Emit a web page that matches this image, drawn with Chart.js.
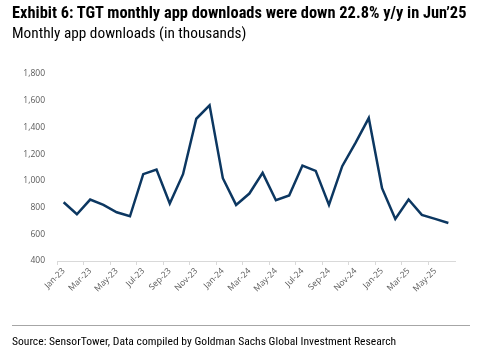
<!DOCTYPE html>
<html>
<head>
<meta charset="utf-8">
<script src="https://cdn.jsdelivr.net/npm/chart.js@4"></script>
<style>
  body { margin: 0; background: #fff; }
  #wrap { position: relative; width: 500px; height: 354px; overflow: hidden; }
  #chart { position: absolute; left: 0; top: 0; }
  .title {
    position: absolute; left: 12px; top: 3px; white-space: nowrap;
    font-family: 'Liberation Sans Narrow', 'Arial Narrow', 'Roboto Condensed', sans-serif;
    font-weight: bold; font-size: 16.4px; color: #000;
  }
  .subtitle {
    position: absolute; left: 12px; top: 24px; white-space: nowrap;
    font-family: 'Liberation Sans Narrow', 'Arial Narrow', 'Roboto Condensed', sans-serif;
    font-size: 15.3px; color: #000;
  }
  .rule { position: absolute; left: 12px; top: 325px; width: 458px; height: 1px; background: #a6a6a6; }
  .source {
    position: absolute; left: 12px; top: 334px; white-space: nowrap;
    font-family: 'Liberation Sans Narrow', 'Arial Narrow', 'Roboto Condensed', sans-serif;
    font-size: 11.6px; color: #000;
  }
</style>
</head>
<body>
<div id="wrap">
  <canvas id="chart" width="500" height="354"></canvas>
  <div class="title">Exhibit 6: TGT monthly app downloads were down 22.8% y/y in Jun’25</div>
  <div class="subtitle">Monthly app downloads (in thousands)</div>
  <div class="rule"></div>
  <div class="source">Source: SensorTower, Data compiled by Goldman Sachs Global Investment Research</div>
</div>
<script>
// Months Jan-23 .. Jun-25
const months = [
  'Jan-23', 'Feb-23', 'Mar-23', 'Apr-23', 'May-23', 'Jun-23',
  'Jul-23', 'Aug-23', 'Sep-23', 'Oct-23', 'Nov-23', 'Dec-23',
  'Jan-24', 'Feb-24', 'Mar-24', 'Apr-24', 'May-24', 'Jun-24',
  'Jul-24', 'Aug-24', 'Sep-24', 'Oct-24', 'Nov-24', 'Dec-24',
  'Jan-25', 'Feb-25', 'Mar-25', 'Apr-25', 'May-25', 'Jun-25'
];

// App downloads, thousands
const downloads = [
  840, 750, 860, 820, 765, 735,
  1050, 1085, 830, 1050, 1465, 1565,
  1020, 820, 905, 1060, 855, 890,
  1115, 1075, 820, 1110, 1285, 1470,
  945, 715, 860, 745, 715, 685
];

const yTicks = [400, 600, 800, 1000, 1200, 1400, 1600, 1800];

const tickFont = { family: "'Open Sans', 'Liberation Sans', sans-serif", size: 8.5 };
const tickColor = '#595959';

function initializeChart() {
  const ctx = document.getElementById('chart').getContext('2d');
  new Chart(ctx, {
    type: 'line',
    data: {
      labels: months,
      datasets: [{
        data: downloads,
        borderColor: '#0c3761',
        borderWidth: 2.5,
        pointRadius: 0,
        tension: 0,
        fill: false
      }]
    },
    options: {
      responsive: false,
      animation: false,
      layout: { padding: { left: 0, right: 45, top: 74, bottom: 0 } },
      plugins: { legend: { display: false }, tooltip: { enabled: false } },
      scales: {
        x: {
          offset: true,
          afterFit: (scale) => { scale.height = 93; },
          border: { display: true, color: '#d9d9d9', width: 1 },
          grid: {
            offset: true,
            drawOnChartArea: false,
            drawTicks: true,
            tickLength: 4,
            color: (c) => (c.index % 2 === 0 ? '#d9d9d9' : 'rgba(0,0,0,0)')
          },
          ticks: {
            autoSkip: false,
            maxRotation: 45,
            minRotation: 45,
            padding: 1,
            color: tickColor,
            font: tickFont,
            callback: function(value, index) {
              return index % 2 === 0 ? months[index] : '';
            }
          }
        },
        y: {
          min: yTicks[0],
          max: yTicks[yTicks.length - 1],
          afterFit: (scale) => { scale.width = 57; },
          afterBuildTicks: (scale) => { scale.ticks = yTicks.map(v => ({ value: v })); },
          border: { display: false },
          grid: { display: false, drawTicks: false },
          ticks: {
            padding: 12,
            color: tickColor,
            font: tickFont,
            callback: (v) => v.toLocaleString('en-US')
          }
        }
      }
    }
  });
}

document.addEventListener('DOMContentLoaded', initializeChart);
</script>
</body>
</html>
